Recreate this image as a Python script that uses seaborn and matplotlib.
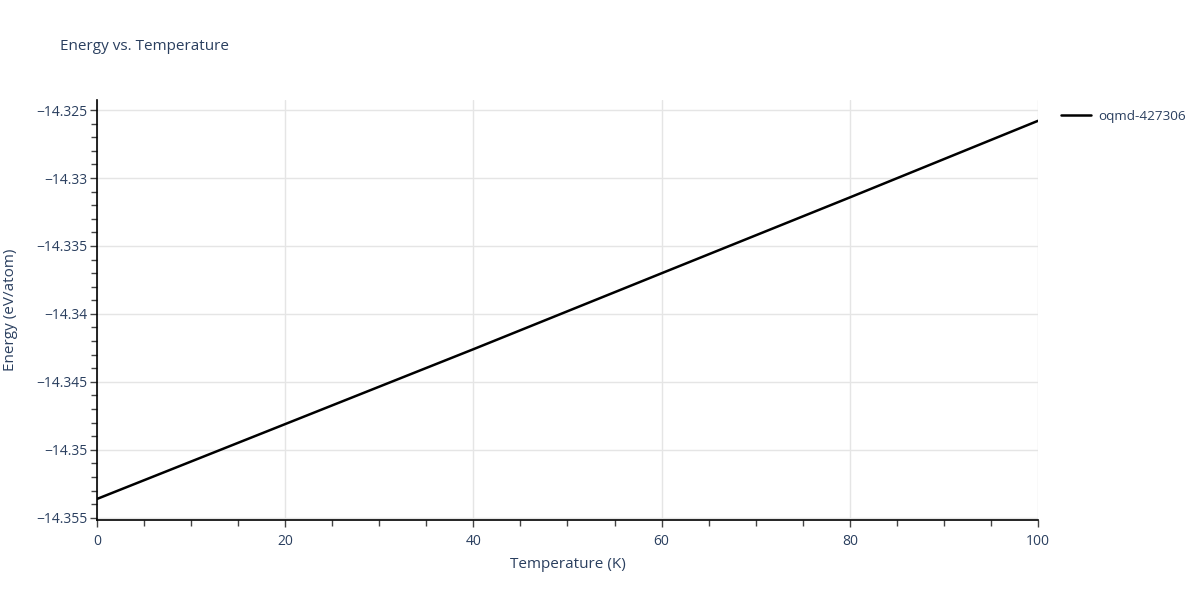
import numpy as np
import pandas as pd
import seaborn as sns
import matplotlib
matplotlib.use("Agg")
import matplotlib.pyplot as plt
from matplotlib.ticker import MultipleLocator, FuncFormatter

# values
temperature = [0, 20, 40, 60, 80, 100]
energy = [-14.35362, -14.34811, -14.34260, -14.33701, -14.33143, -14.32579]
series_name = "oqmd-427306"

df = pd.DataFrame({"Temperature (K)": temperature,
                   "Energy (eV/atom)": energy,
                   "material": series_name})

sns.set_style("white")
plt.rcParams['font.family'] = ['Open Sans', 'DejaVu Sans']
text_color = "#2a3f5f"

fig = plt.figure(figsize=(12, 6), dpi=100)
ax = fig.add_axes([0.0808, 0.1333, 0.865 - 0.0808, 0.70])

sns.lineplot(data=df, x="Temperature (K)", y="Energy (eV/atom)",
             hue="material", palette=["black"], linewidth=1.8, ax=ax)

ax.set_xlim(0, 100)
ax.set_ylim(-14.35517, -14.32426)

ax.xaxis.set_major_locator(MultipleLocator(20))
ax.xaxis.set_minor_locator(MultipleLocator(5))
ax.yaxis.set_major_locator(MultipleLocator(0.005))
ax.yaxis.set_minor_locator(MultipleLocator(0.001))


def fmt_y(v, pos):
    s = f"{abs(v):.3f}".rstrip('0').rstrip('.')
    return ("\u2212" if v < 0 else "") + s


ax.yaxis.set_major_formatter(FuncFormatter(fmt_y))

ax.grid(True, which="major", color="#e5e5e5", linewidth=1)
ax.set_axisbelow(True)
for side in ["top", "right"]:
    ax.spines[side].set_visible(False)
for side in ["left", "bottom"]:
    ax.spines[side].set_color("black")
    ax.spines[side].set_linewidth(1.2)

ax.tick_params(which="both", direction="out", colors="#444444",
               labelcolor=text_color, labelsize=10,
               bottom=True, left=True)
ax.tick_params(which="major", length=5, width=1)
ax.tick_params(which="minor", length=4, width=1)
ax.tick_params(axis="y", pad=2)
ax.tick_params(axis="x", pad=5)

ax.set_xlabel("Temperature (K)", fontsize=11, color=text_color, labelpad=6)
ax.set_ylabel("Energy (eV/atom)", fontsize=11, color=text_color)
ax.yaxis.set_label_coords(-0.084, 0.5)

fig.text(0.05, 0.922, "Energy vs. Temperature", fontsize=11,
         color=text_color, ha="left", va="center")

leg = ax.legend(loc="upper left", bbox_to_anchor=(1.012, 1.005), frameon=False,
                fontsize=9.7, handlelength=2.2, handletextpad=0.5)
for t in leg.get_texts():
    t.set_color(text_color)

fig.savefig("out.png", dpi=100)
plt.close(fig)
